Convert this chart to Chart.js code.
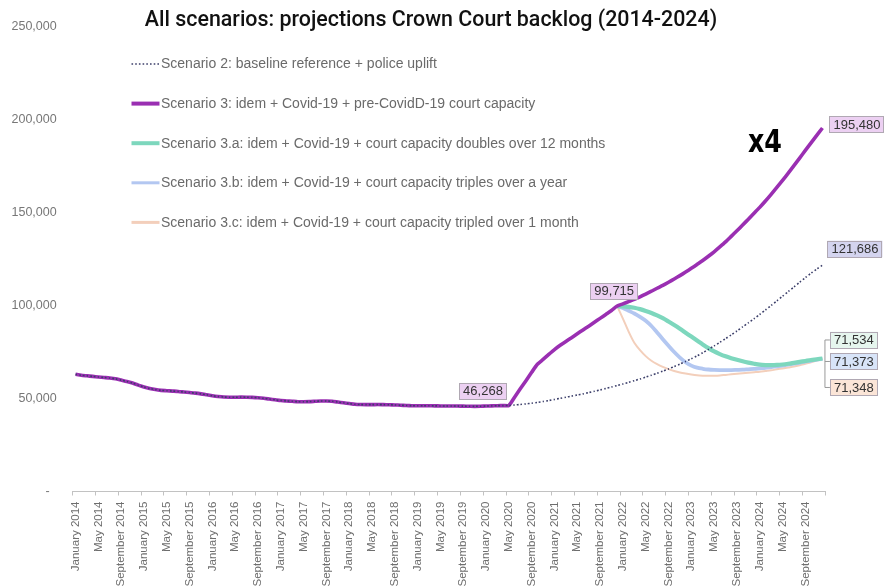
<!DOCTYPE html>
<html>
<head>
<meta charset="utf-8">
<script src="https://cdn.jsdelivr.net/npm/chart.js@4/dist/chart.umd.min.js"></script>
<style>
  html, body { margin: 0; padding: 0; background: #ffffff; }
  #wrap { width: 884px; height: 588px; }
</style>
</head>
<body>
<div id="wrap"><canvas id="backlog" width="884" height="588"></canvas></div>
<script>
// Month categories, January 2014 – December 2024
const monthNames = ['January', 'February', 'March', 'April', 'May', 'June',
  'July', 'August', 'September', 'October', 'November', 'December'];
const years = [2014, 2015, 2016, 2017, 2018, 2019, 2020, 2021, 2022, 2023, 2024];
const months = [];
years.forEach(y => monthNames.forEach(m => months.push(m + ' ' + y)));

// Observed backlog, January 2014 – May 2020 (shared by every scenario)
const preCovid = [
  63000, 62500, 62200, 61900, 61600, 61300, 61000, 60600, 59900, 59200, 58300, 57200,
  56200, 55400, 54800, 54400, 54200, 54000, 53800, 53500, 53200, 52900, 52500, 52000,
  51500, 51100, 50800, 50700, 50700, 50750, 50700, 50600, 50400, 50100, 49700, 49300,
  48900, 48700, 48500, 48300, 48300, 48350, 48500, 48650, 48650, 48500, 48100, 47700,
  47300, 46900, 46750, 46700, 46700, 46750, 46700, 46650, 46550, 46400, 46250, 46150,
  46100, 46100, 46100, 46050, 46000, 46000, 46000, 45950, 45900, 45850, 45800, 45850,
  45950, 46050, 46150, 46200, 46268
];

// Scenario 2 projection, June 2020 – December 2024
const scenario2Proj = [
  46500, 46800, 47100, 47500, 47900, 48400, 48900, 49500, 50100, 50700, 51300, 51900,
  52500, 53200, 53900, 54600, 55400, 56200, 57000, 57800, 58700, 59600, 60500, 61500,
  62500, 63600, 64700, 65900, 67200, 68500, 69900, 71400, 72900, 74600, 76400, 78300,
  80200, 82200, 84200, 86300, 88500, 90700, 92900, 95200, 97600, 100000, 102500, 105000,
  107500, 110000, 112500, 115000, 117400, 119600, 121686
];

// Scenario 3 projection, June 2020 – December 2024
const scenario3Proj = [
  50700, 55200, 59600, 64100, 68400, 71000, 73700, 76300, 78600, 80700, 82700, 84800,
  86900, 88900, 91000, 93100, 95200, 97300, 99715, 100900, 102100, 103300, 104700, 106200,
  107700, 109300, 110800, 112500, 114300, 116100, 118000, 120000, 122100, 124200, 126500, 128900,
  131500, 134200, 137200, 140200, 143300, 146400, 149600, 152800, 156200, 159800, 163500, 167300,
  171200, 175200, 179300, 183400, 187500, 191500, 195480
];

// Capacity variants, December 2021 – December 2024
const branchMonth = 'December 2021';
const scenario3aProj = [
  99715, 99600, 99300, 98800, 98060, 97100, 96000, 94700, 93200, 91400, 89500, 87500,
  85400, 83300, 81200, 79100, 77100, 75300, 73900, 72700, 71700, 70800, 70000, 69300,
  68700, 68200, 68000, 67950, 68050, 68300, 68700, 69200, 69700, 70200, 70700, 71100, 71534
];
const scenario3bProj = [
  99715, 98700, 97200, 95700, 93900, 91800, 89000, 85500, 81900, 78400, 75000, 72000,
  69500, 67700, 66600, 66000, 65600, 65400, 65300, 65300, 65300, 65400, 65500, 65700,
  65900, 66200, 66500, 66900, 67300, 67700, 68200, 68700, 69200, 69800, 70300, 70900, 71373
];
const scenario3cProj = [
  99715, 93000, 86000, 80000, 76000, 72800, 70300, 68500, 67000, 65800, 64800, 64000,
  63400, 62900, 62500, 62300, 62200, 62250, 62400, 62700, 63000, 63300, 63600, 63900,
  64150, 64400, 64800, 65200, 65700, 66200, 66700, 67200, 67900, 68700, 69500, 70400, 71348
];

const seriesLabels = [
  'Scenario 2: baseline reference + police uplift',
  'Scenario 3: idem + Covid-19 + pre-CovidD-19 court capacity',
  'Scenario 3.a: idem + Covid-19 + court capacity doubles over 12 months',
  'Scenario 3.b: idem + Covid-19 + court capacity triples over a year',
  'Scenario 3.c: idem + Covid-19 + court capacity tripled over 1 month'
];
const yTicks = [0, 50000, 100000, 150000, 200000, 250000];

const titleText = 'All scenarios: projections Crown Court backlog (2014-2024)';
const calloutText = 'x4';

// ---- assemble full-length series ----
const branchIndex = months.indexOf(branchMonth);
const lead = new Array(branchIndex).fill(null);
const scenario2 = preCovid.concat(scenario2Proj);
const scenario3 = preCovid.concat(scenario3Proj);
const scenario3a = lead.concat(scenario3aProj);
const scenario3b = lead.concat(scenario3bProj);
const scenario3c = lead.concat(scenario3cProj);
const covidIndex = preCovid.length - 1;
const lastIndex = months.length - 1;

const fmt = v => v.toLocaleString('en-US');
const SANS = '"Liberation Sans", Arial, Helvetica, sans-serif';

// Title, x4 callout and in-plot legend
const decorations = {
  id: 'decorations',
  afterDraw(chart) {
    const ctx = chart.ctx;
    ctx.save();
    ctx.fillStyle = '#111111';
    ctx.font = '500 21.4px Roboto, "Open Sans", sans-serif';
    ctx.textAlign = 'center';
    ctx.textBaseline = 'alphabetic';
    ctx.fillText(titleText, 431, 25.5);

    ctx.save();
    ctx.translate(765, 151.5);
    ctx.scale(0.88, 1);
    ctx.font = 'bold 32px "DejaVu Sans Condensed", "Liberation Sans Narrow", sans-serif';
    ctx.fillStyle = '#000000';
    ctx.fillText(calloutText, 0, 0);
    ctx.restore();

    ctx.font = '14px ' + SANS;
    ctx.textAlign = 'left';
    ctx.textBaseline = 'middle';
    chart.data.datasets.forEach((ds, i) => {
      const y = 64 + i * 39.6;
      ctx.beginPath();
      ctx.strokeStyle = ds.borderColor;
      ctx.lineWidth = ds.legendWidth;
      ctx.setLineDash(ds.borderDash || []);
      ctx.lineCap = 'butt';
      ctx.moveTo(131.5, y);
      ctx.lineTo(159.5, y);
      ctx.stroke();
      ctx.setLineDash([]);
      ctx.fillStyle = '#6a6a6a';
      ctx.fillText(ds.label, 161, y + 0.5);
    });
    ctx.restore();
  }
};

// Value call-outs drawn next to the points they describe
const callouts = {
  id: 'callouts',
  afterDatasetsDraw(chart) {
    const ctx = chart.ctx;
    const pt = (d, i) => chart.getDatasetMeta(d).data[i];
    const valueOf = (d, i) => chart.data.datasets[d].data[i];
    ctx.save();
    ctx.font = '13px ' + SANS;
    ctx.textBaseline = 'middle';
    ctx.textAlign = 'center';
    const box = (text, left, top, fill) => {
      const w = ctx.measureText(text).width + 8;
      const h = 16.5;
      ctx.fillStyle = fill;
      ctx.fillRect(left, top, w, h);
      ctx.strokeStyle = '#b0a8b3';
      ctx.lineWidth = 1;
      ctx.strokeRect(Math.round(left) + 0.5, Math.round(top) + 0.5, Math.round(w) - 1, Math.round(h) - 1);
      ctx.fillStyle = '#333333';
      ctx.fillText(text, left + w / 2, top + h / 2 + 0.5);
      return w;
    };
    const widthOf = t => ctx.measureText(t).width + 8;

    // start of the Covid-19 period
    let p = pt(1, covidIndex), t = fmt(valueOf(1, covidIndex));
    box(t, p.x - 2 - widthOf(t), p.y - 6 - 16.5, '#ecd0f2');

    // branching point of the capacity variants
    p = pt(1, branchIndex); t = fmt(valueOf(1, branchIndex));
    box(t, p.x - 3 - widthOf(t) / 2, p.y - 6.5 - 16.5, '#ecd0f2');

    // end values
    p = pt(1, lastIndex); t = fmt(valueOf(1, lastIndex));
    box(t, p.x + 7, p.y - 11.5, '#ecd0f2');

    p = pt(0, lastIndex); t = fmt(valueOf(0, lastIndex));
    box(t, p.x + 5, p.y - 24.5, '#d4d4ef');

    p = pt(2, lastIndex);
    const ends = [
      { d: 2, dy: -18.5, fill: '#e6f6ee' },
      { d: 3, dy: 3, fill: '#d8e4f8' },
      { d: 4, dy: 29, fill: '#fbe5d7' }
    ];
    const bx = p.x + 2.5;
    ctx.strokeStyle = '#9a9a9a';
    ctx.lineWidth = 1;
    ctx.beginPath();
    ctx.moveTo(bx, p.y + ends[0].dy);
    ctx.lineTo(bx, p.y + ends[2].dy);
    ends.forEach(e => {
      ctx.moveTo(bx, p.y + e.dy);
      ctx.lineTo(p.x + 7.5, p.y + e.dy);
    });
    ctx.stroke();
    ends.forEach(e => {
      box(fmt(valueOf(e.d, lastIndex)), p.x + 7.5, p.y + e.dy - 8.25, e.fill);
    });
    ctx.restore();
  }
};

const lineBase = { pointRadius: 0, pointHoverRadius: 0, fill: false, tension: 0.3, borderCapStyle: 'butt' };

new Chart(document.getElementById('backlog'), {
  type: 'line',
  data: {
    labels: months,
    datasets: [
      Object.assign({}, lineBase, { label: seriesLabels[0], data: scenario2,
        borderColor: '#3c3f6a', borderWidth: 1.6, borderDash: [1.6, 2.1], legendWidth: 1.6, tension: 0.2 }),
      Object.assign({}, lineBase, { label: seriesLabels[1], data: scenario3,
        borderColor: '#9a2fb2', borderWidth: 3.6, legendWidth: 4, tension: 0.2 }),
      Object.assign({}, lineBase, { label: seriesLabels[2], data: scenario3a,
        borderColor: '#7dd7bd', borderWidth: 4.2, legendWidth: 4 }),
      Object.assign({}, lineBase, { label: seriesLabels[3], data: scenario3b,
        borderColor: '#b3c7f1', borderWidth: 3.8, legendWidth: 3 }),
      Object.assign({}, lineBase, { label: seriesLabels[4], data: scenario3c,
        borderColor: '#f3cfbb', borderWidth: 2, legendWidth: 3 })
    ]
  },
  options: {
    responsive: false,
    animation: false,
    events: [],
    layout: { padding: { top: 26.6, right: 58.7, left: 0, bottom: 0 } },
    plugins: {
      legend: { display: false },
      title: { display: false },
      tooltip: { enabled: false }
    },
    scales: {
      x: {
        type: 'category',
        offset: true,
        afterFit(scale) { scale.height = 96.5; },
        grid: {
          display: true,
          drawOnChartArea: false,
          offset: true,
          tickLength: 4,
          tickWidth: 1,
          tickColor: ctx => (ctx.index === undefined || ctx.index % 4 === 0) ? '#c2c2c2' : 'rgba(0,0,0,0)'
        },
        border: { display: true, color: '#c2c2c2', width: 1 },
        ticks: {
          autoSkip: false,
          minRotation: 90,
          maxRotation: 90,
          padding: 6,
          color: '#6e6e6e',
          font: { family: SANS, size: 11.5 },
          callback: (v, i) => (i % 4 === 0 ? months[i] : '')
        }
      },
      y: {
        min: 0,
        max: 250000,
        afterFit(scale) { scale.width = 72.7; },
        afterBuildTicks(scale) { scale.ticks = yTicks.map(v => ({ value: v })); },
        grid: { display: false, drawTicks: false },
        border: { display: false },
        ticks: {
          padding: 16,
          color: '#777777',
          font: { family: SANS, size: 12.5 },
          callback: v => (v === 0 ? '-  ' : fmt(v))
        }
      }
    }
  },
  plugins: [callouts, decorations]
});
</script>
</body>
</html>
